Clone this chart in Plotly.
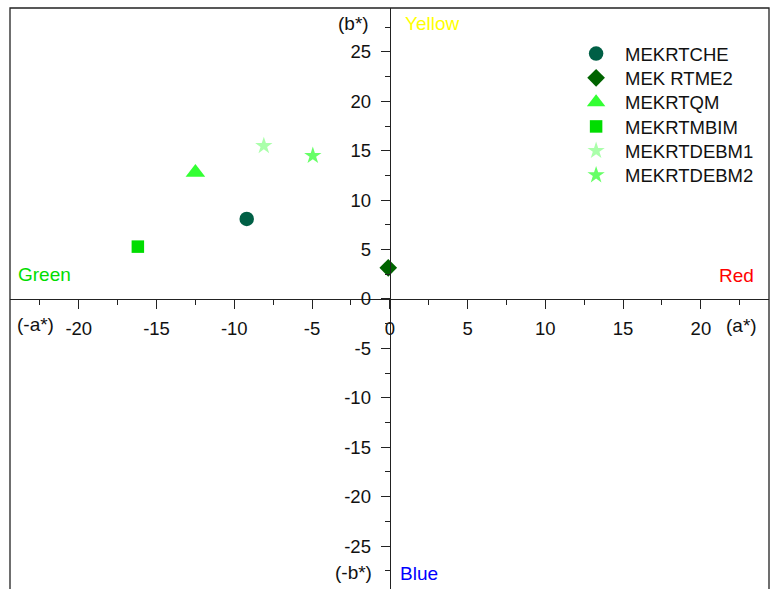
import plotly.graph_objects as go

# ---- data ----
names = ["MEKRTCHE", "MEK RTME2", "MEKRTQM", "MEKRTMBIM", "MEKRTDEBM1", "MEKRTDEBM2"]
a_vals = [-9.2, -0.1, -12.5, -16.2, -8.1, -4.95]
b_vals = [8.1, 3.15, 12.8, 5.3, 15.5, 14.5]
symbols = ["circle", "diamond", "triangle-up", "square", "star", "star"]
colors = ["#005F45", "#006400", "#33FF33", "#00DD00", "#AAFFAA", "#66FF66"]
sizes = [14.5, 13.6, 17, 12.5, 13, 13]

x_ticks = [-20, -15, -10, -5, 0, 5, 10, 15, 20]
x_tick_text = ["-20", "-15", "-10", "-5", "0", "5", "10", "15", "20"]
y_ticks = [-25, -20, -15, -10, -5, 0, 5, 10, 15, 20, 25]
y_tick_text = ["-25", "-20", "-15", "-10", "-5", "0", "5", "10", "15", "20", "25"]

FONT = "Arial, Liberation Sans, sans-serif"
W, H = 770, 589
ML, MR, MT, MB = 10, 1, 8, 0
XR = [-24.42, 24.38]
YR = [-29.35, 29.45]
PLOT_H = H - MT - MB

fig = go.Figure()
legend_layouts = {}
for i, (n, a, b, s, c, sz) in enumerate(zip(names, a_vals, b_vals, symbols, colors, sizes)):
    lname = "legend" if i == 0 else f"legend{i + 1}"
    fig.add_trace(go.Scatter(
        x=[a], y=[b], mode="markers", name=n, legend=lname,
        marker=dict(symbol=s, color=c, size=sz, line=dict(width=0)),
    ))
    top_px = 35 + 24.3 * i
    legend_layouts[lname] = dict(
        x=0.734, y=(H - MB - top_px) / PLOT_H, xanchor="left", yanchor="top",
        font=dict(family=FONT, size=18.5, color="#111111"),
        itemwidth=48, bgcolor="rgba(0,0,0,0)", borderwidth=0,
    )

def xfrac(v):
    return (v - XR[0]) / (XR[1] - XR[0])

def yfrac(v):
    return (v - YR[0]) / (YR[1] - YR[0])

axis_common = dict(
    showgrid=False, zeroline=False, showline=True, linecolor="#222222", linewidth=1.3,
    ticks="outside", tickcolor="#222222", tickwidth=1.3, ticklen=9,
    tickfont=dict(family=FONT, size=18.5, color="#111111"),
    anchor="free", tickmode="array",
)

fig.update_layout(
    width=W, height=H,
    margin=dict(l=ML, r=MR, t=MT, b=MB, autoexpand=False),
    paper_bgcolor="white", plot_bgcolor="white",
    xaxis=dict(range=XR, tickvals=x_ticks, ticktext=x_tick_text, position=yfrac(0), side="bottom",
               minor=dict(dtick=2.5, tick0=0, ticks="outside", ticklen=5, tickcolor="#222222", tickwidth=1.3),
               ticklabelstandoff=4, **axis_common),
    yaxis=dict(range=YR, tickvals=y_ticks, ticktext=y_tick_text, position=xfrac(0), side="left",
               minor=dict(dtick=2.5, tick0=0, ticks="outside", ticklen=5, tickcolor="#222222", tickwidth=1.3),
               ticklabelstandoff=6, **axis_common),
    showlegend=True,
    font=dict(family=FONT),
    **legend_layouts,
)

fig.add_shape(type="rect", xref="paper", yref="paper", x0=0, x1=1, y0=-0.02, y1=1,
              line=dict(color="#222222", width=1.3), layer="above")

labels = [
    ("(b*)", -1.29, 27.9, "right", "#111111"),
    ("Yellow", 0.9, 27.9, "left", "#FFFF00"),
    ("Green", -23.99, 2.43, "left", "#00DD00"),
    ("Red", 23.47, 2.35, "right", "#FF0000"),
    ("(-a*)", -24.05, -2.55, "left", "#111111"),
    ("(a*)", 23.67, -2.65, "right", "#111111"),
    ("(-b*)", -1.09, -27.7, "right", "#111111"),
    ("Blue", 0.58, -27.8, "left", "#0000FF"),
]
for t, x, y, xa, c in labels:
    fig.add_annotation(text=t, x=x, y=y, xref="x", yref="y", xanchor=xa, yanchor="middle",
                       showarrow=False, font=dict(family=FONT, size=19, color=c), borderpad=0)

fig.write_html("out.html")
